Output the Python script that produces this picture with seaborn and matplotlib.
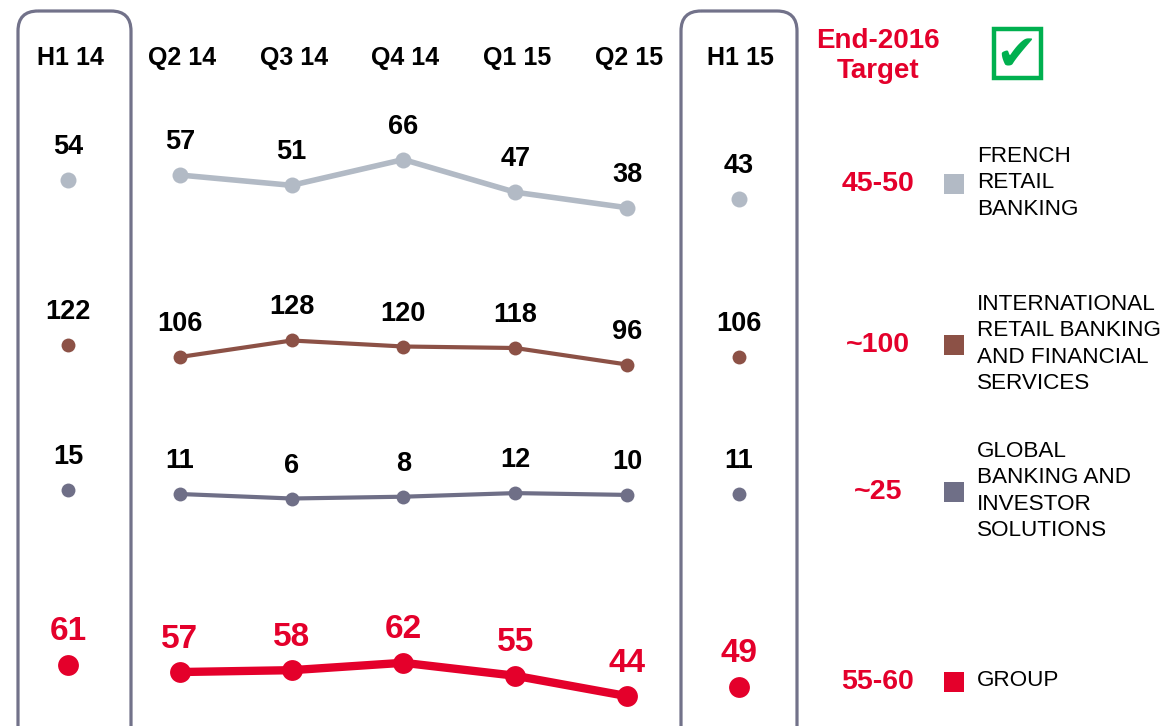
import matplotlib
matplotlib.use("Agg")
import matplotlib.pyplot as plt
import matplotlib.font_manager as fm
from matplotlib.patches import FancyBboxPatch, Rectangle
import pandas as pd
import seaborn as sns

sns.set_theme(style="white")
plt.rcParams["font.family"] = ["Liberation Sans", "DejaVu Sans"]

names = {f.name for f in fm.fontManager.ttflist}
NARROW = "Liberation Sans Narrow" if "Liberation Sans Narrow" in names else "Liberation Sans"

# -------------------------------------------------------------
# DATA
# -------------------------------------------------------------
periods = ["H1 14", "Q2 14", "Q3 14", "Q4 14", "Q1 15", "Q2 15", "H1 15"]
segments = ["FRENCH\nRETAIL\nBANKING",
            "INTERNATIONAL\nRETAIL BANKING\nAND FINANCIAL\nSERVICES",
            "GLOBAL\nBANKING AND\nINVESTOR\nSOLUTIONS",
            "GROUP"]
french_retail = [54, 57, 51, 66, 47, 38, 43]
intl_retail = [122, 106, 128, 120, 118, 96, 106]
global_banking = [15, 11, 6, 8, 12, 10, 11]
group = [61, 57, 58, 62, 55, 44, 49]
targets = ["45-50", "~100", "~25", "55-60"]

series = [french_retail, intl_retail, global_banking, group]
colors = ["#B2BAC5", "#8C5146", "#6F6F87", "#E4002B"]
label_colors = ["black", "black", "black", "#E4002B"]

# layout (pixels of the 1169x726 canvas)
W, H = 1169, 726
x0, dx = 68, 111.8
bands = [(110, 250, 13.4, 94.8), (290, 400, 48.7, 195.3),
         (430, 540, -40.1, 82.1), (600, 720, 31.1, 95.9)]
line_w = [4, 3, 3, 6]
mark_s = [11.5, 10, 10, 15]

fig = plt.figure(figsize=(W / 100, H / 100), dpi=100)

# background axes in pixel coordinates
bg = fig.add_axes([0, 0, 1, 1])
bg.set_xlim(0, W)
bg.set_ylim(H, 0)
bg.axis("off")

box_col = "#72728A"
for left, right in [(18, 131), (681, 797)]:
    bg.add_patch(FancyBboxPatch((left, 11), right - left, 740,
                                boxstyle="round,pad=0,rounding_size=20",
                                fill=False, ec=box_col, lw=2.3, zorder=1))

for i, p in enumerate(periods):
    bg.text(x0 + dx * i + 2, 58, p, ha="center", va="center",
            fontsize=18, fontweight="bold", color="black")

bg.text(878, 56, "End-2016\nTarget", ha="center", va="center", fontsize=20,
        fontweight="bold", color="#E4002B", linespacing=1.25)
bg.add_patch(Rectangle((994, 29), 47, 49, fill=False, ec="#00B04F", lw=3.2))
bg.text(1016, 56, "\u2714", ha="center", va="center", fontsize=36,
        color="#00B04F", family="DejaVu Sans")

legend_y = [184, 345, 492, 682]
for k in range(4):
    yy = legend_y[k]
    bg.text(878, yy, targets[k], ha="center", va="center", fontsize=20.5,
            fontweight="bold", color="#E4002B")
    bg.add_patch(Rectangle((944, yy - 10), 20, 20, color=colors[k], lw=0))
    bg.text(977, yy - 1, segments[k], ha="left", va="center", fontsize=16.2,
            color="black", linespacing=1.32)

# one axes per segment, each with its own value scale
for k, vals in enumerate(series):
    top, bottom, lo, hi = bands[k]
    ax = fig.add_axes([0, 1 - bottom / H, 1, (bottom - top) / H])
    ax.patch.set_alpha(0)
    ax.set_xlim(-x0 / dx, (W - x0) / dx)
    ax.set_ylim(lo, hi)
    ax.axis("off")

    df = pd.DataFrame({"x": range(len(periods)), "v": vals})
    inner = df.iloc[1:-1]
    halves = df.iloc[[0, -1]]
    sns.lineplot(data=inner, x="x", y="v", ax=ax, color=colors[k],
                 lw=line_w[k], marker="o", markersize=mark_s[k],
                 markeredgewidth=0, zorder=3)
    sns.scatterplot(data=halves, x="x", y="v", ax=ax, color=colors[k],
                    s=mark_s[k] ** 2, linewidth=0, zorder=3)

    big = k == 3
    for xi, v in zip(df["x"], df["v"]):
        ax.annotate(str(v), (xi, v), xytext=(0, 33), textcoords="offset pixels",
                    ha="center", va="center", fontweight="bold",
                    fontsize=24 if big else 19.5, color=label_colors[k],
                    family=NARROW if big else "Liberation Sans")

fig.savefig("out.png", dpi=100)
